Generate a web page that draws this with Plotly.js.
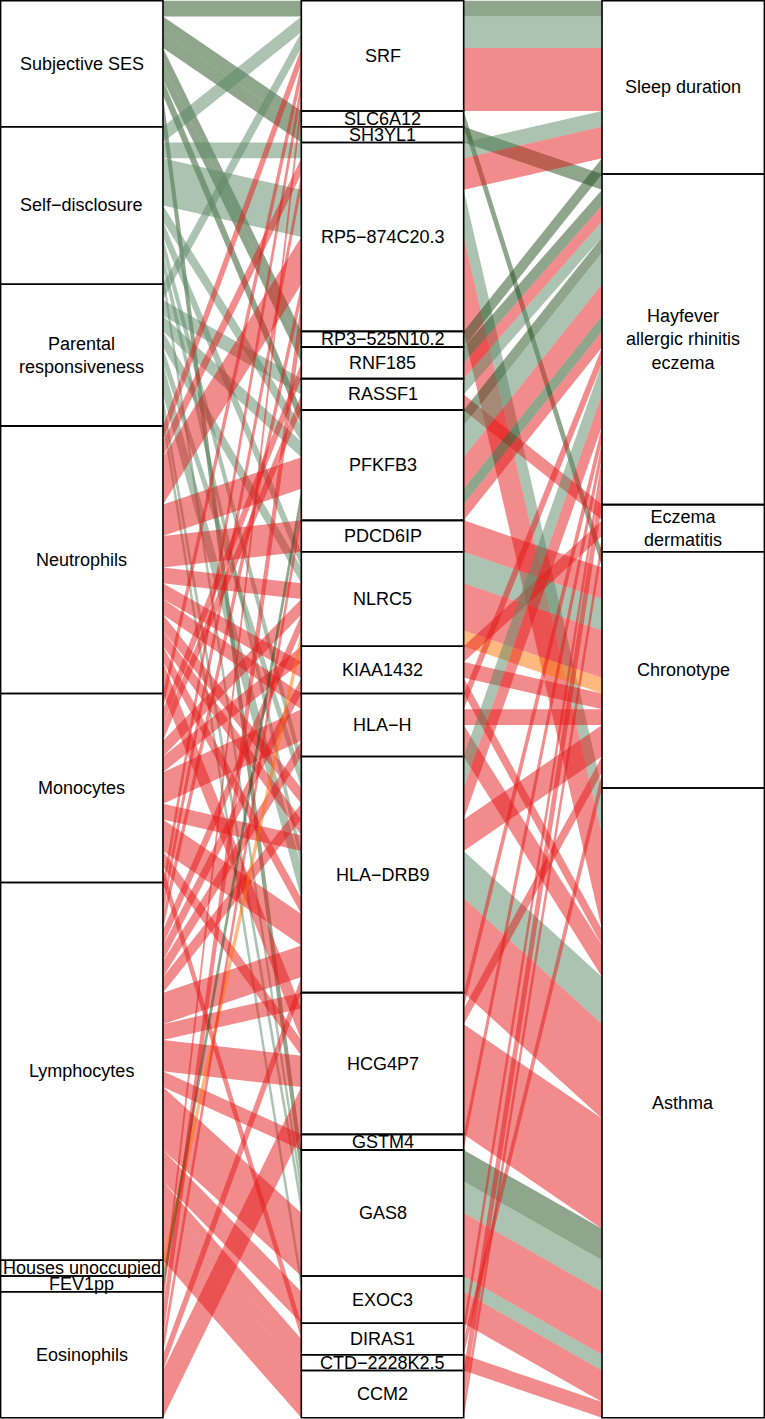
<!DOCTYPE html>
<html><head><meta charset="utf-8">
<script src="https://cdn.plot.ly/plotly-3.0.1.min.js"></script>
<style>html,body{margin:0;padding:0;background:#fff}#chart{width:765px;height:1419px}</style>
</head><body><div id="chart"></div>
<script>
// ---- categories (top to bottom) ----
const leftLevels = ["SES","SD","PR","NEU","MON","LYM","HU","FEV","EOS"];
const leftLabels = ["Subjective SES","Self\u2212disclosure","Parental<br>responsiveness","Neutrophils","Monocytes","Lymphocytes","Houses unoccupied","FEV1pp","Eosinophils"];
const geneLevels = ["SRF","SLC6A12","SH3YL1","RP5\u2212874C20.3","RP3\u2212525N10.2","RNF185","RASSF1","PFKFB3","PDCD6IP","NLRC5","KIAA1432","HLA\u2212H","HLA\u2212DRB9","HCG4P7","GSTM4","GAS8","EXOC3","DIRAS1","CTD\u22122228K2.5","CCM2"];
const diseaseLevels = ["SLP","HAY","ECZ","CHR","AST"];
const diseaseLabels = ["Sleep duration","Hayfever<br>allergic rhinitis<br>eczema","Eczema<br>dermatitis","Chronotype","Asthma"];
const groupColors = {dk:"rgba(31,77,27,0.5)", lt:"rgba(91,135,101,0.5)", red:"rgba(229,23,23,0.5)", orange:"rgba(255,115,0,0.5)"};

// ---- alluvia: one entry per unit flow ----
const flowLeft = [
 "SES","SD","PR","NEU","MON","LYM","EOS",
 "SES",
 "SES",
 "SD","NEU","LYM","SD","SD","SD","NEU","NEU","NEU","LYM","EOS","EOS",
 "SES",
 "SES","MON",
 "PR","MON",
 "SES","SD","PR","NEU","NEU","EOS","FEV",
 "NEU","NEU",
 "SD","PR","NEU","MON","LYM","HU",
 "NEU","MON","LYM",
 "NEU","MON","MON","LYM",
 "SD","PR","NEU","LYM","NEU","MON","SD","PR","PR","NEU","MON","MON","LYM","LYM","EOS",
 "LYM","NEU","NEU","MON","LYM","LYM","EOS","EOS","EOS",
 "LYM",
 "SES","SES","SD","PR","LYM","LYM","LYM","LYM",
 "PR","LYM","LYM",
 "MON","LYM",
 "LYM",
 "LYM","LYM","LYM"];
const flowGene = [
 "SRF","SRF","SRF","SRF","SRF","SRF","SRF",
 "SLC6A12",
 "SH3YL1",
 "RP5\u2212874C20.3","RP5\u2212874C20.3","RP5\u2212874C20.3","RP5\u2212874C20.3","RP5\u2212874C20.3","RP5\u2212874C20.3","RP5\u2212874C20.3","RP5\u2212874C20.3","RP5\u2212874C20.3","RP5\u2212874C20.3","RP5\u2212874C20.3","RP5\u2212874C20.3",
 "RP3\u2212525N10.2",
 "RNF185","RNF185",
 "RASSF1","RASSF1",
 "PFKFB3","PFKFB3","PFKFB3","PFKFB3","PFKFB3","PFKFB3","PFKFB3",
 "PDCD6IP","PDCD6IP",
 "NLRC5","NLRC5","NLRC5","NLRC5","NLRC5","NLRC5",
 "KIAA1432","KIAA1432","KIAA1432",
 "HLA\u2212H","HLA\u2212H","HLA\u2212H","HLA\u2212H",
 "HLA\u2212DRB9","HLA\u2212DRB9","HLA\u2212DRB9","HLA\u2212DRB9","HLA\u2212DRB9","HLA\u2212DRB9","HLA\u2212DRB9","HLA\u2212DRB9","HLA\u2212DRB9","HLA\u2212DRB9","HLA\u2212DRB9","HLA\u2212DRB9","HLA\u2212DRB9","HLA\u2212DRB9","HLA\u2212DRB9",
 "HCG4P7","HCG4P7","HCG4P7","HCG4P7","HCG4P7","HCG4P7","HCG4P7","HCG4P7","HCG4P7",
 "GSTM4",
 "GAS8","GAS8","GAS8","GAS8","GAS8","GAS8","GAS8","GAS8",
 "EXOC3","EXOC3","EXOC3",
 "DIRAS1","DIRAS1",
 "CTD\u22122228K2.5",
 "CCM2","CCM2","CCM2"];
const flowDisease = [
 "SLP","SLP","SLP","SLP","SLP","SLP","SLP",
 "CHR",
 "HAY",
 "SLP","SLP","SLP","AST","AST","AST","AST","AST","AST","AST","AST","AST",
 "SLP",
 "HAY","HAY",
 "HAY","ECZ",
 "HAY","HAY","HAY","HAY","HAY","HAY","HAY",
 "CHR","CHR",
 "CHR","CHR","CHR","CHR","CHR","CHR",
 "CHR","ECZ","AST",
 "HAY","CHR","AST","AST",
 "HAY","HAY","HAY","HAY","CHR","CHR","AST","AST","AST","AST","AST","AST","AST","AST","AST",
 "HAY","CHR","AST","AST","AST","AST","AST","AST","AST",
 "HAY",
 "AST","AST","AST","AST","AST","AST","AST","AST",
 "AST","AST","AST",
 "HAY","CHR",
 "AST",
 "HAY","HAY","ECZ"];
const flowGroup = [
 "dk","lt","lt","red","red","red","red",
 "dk",
 "dk",
 "lt","red","red","lt","lt","lt","red","red","red","red","red","red",
 "dk",
 "dk","red",
 "lt","red",
 "dk","lt","lt","red","red","red","dk",
 "red","red",
 "lt","lt","red","red","red","orange",
 "red","red","red",
 "red","red","red","red",
 "lt","lt","red","red","red","red","lt","lt","lt","red","red","red","red","red","red",
 "red","red","red","red","red","red","red","red","red",
 "red",
 "dk","dk","lt","lt","red","red","red","red",
 "lt","red","red",
 "red","red",
 "red",
 "red","red","red"];

// ---- layout of axes ----
const axisX = [1, 2, 3];
const halfW = 0.27;

const n = flowLeft.length;
const li = flowLeft.map(v => leftLevels.indexOf(v));
const gi = flowGene.map(v => geneLevels.indexOf(v));
const di = flowDisease.map(v => diseaseLevels.indexOf(v));
const keys = [li, gi, di];
// zigzag lode ordering: axis1 by (1,2,3), axis2 by (2,3,1), axis3 by (3,2,1)
const orders = [[0,1,2],[1,2,0],[2,1,0]];
const sorted = [], pos = [];
orders.forEach(ord => {
  const idx = [...Array(n).keys()];
  idx.sort((a, b) => {
    for (const k of ord) { if (keys[k][a] !== keys[k][b]) return keys[k][a] - keys[k][b]; }
    return a - b;
  });
  const p = new Array(n);
  idx.forEach((f, r) => { p[f] = r; });
  sorted.push(idx); pos.push(p);
});

// bands: merge neighbouring flows that run side by side with the same colour
const traces = [];
for (let s = 0; s < 2; s++) {
  const xa = axisX[s] + halfW, xb = axisX[s + 1] - halfW;
  const order = sorted[s];
  let k = 0;
  while (k < n) {
    const f0 = order[k];
    let len = 1;
    while (k + len < n) {
      const prev = order[k + len - 1], nxt = order[k + len];
      if (flowGroup[nxt] === flowGroup[f0] && pos[s + 1][nxt] === pos[s + 1][prev] + 1 && keys[s][nxt] === keys[s][f0] && keys[s+1][nxt] === keys[s+1][f0]) len++;
      else break;
    }
    const col = groupColors[flowGroup[f0]];
    const ya = pos[s][f0], yb = pos[s + 1][f0];
    traces.push({
      type: "scatter", mode: "lines", fill: "toself", fillcolor: col,
      line: {width: 0, color: col}, hoverinfo: "skip",
      x: [xa, xb, xb, xa, xa], y: [ya, yb, yb + len, ya + len, ya]
    });
    k += len;
  }
}

// strata boxes & labels
const shapes = [], annotations = [];
const axesDef = [
  {levels: leftLevels, labels: leftLabels, key: li},
  {levels: geneLevels, labels: geneLevels, key: gi},
  {levels: diseaseLevels, labels: diseaseLabels, key: di}
];
axesDef.forEach((ax, a) => {
  let top = 0;
  ax.levels.forEach((lev, j) => {
    const cnt = ax.key.filter(v => v === j).length;
    if (!cnt) return;
    const bot = top + cnt;
    shapes.push({type: "rect", xref: "x", yref: "y", x0: axisX[a] - halfW, x1: axisX[a] + halfW,
      y0: top, y1: bot, line: {color: "#000", width: 1.6}, fillcolor: "rgba(0,0,0,0)", layer: "above"});
    annotations.push({x: axisX[a], y: (top + bot) / 2, xref: "x", yref: "y", text: ax.labels[j],
      showarrow: false, font: {family: "Liberation Sans, Arial, sans-serif", size: 18, color: "#000"}});
    top = bot;
  });
});

const layout = {
  width: 765, height: 1419, margin: {l: 0, r: 0, t: 0, b: 0},
  paper_bgcolor: "#fff", plot_bgcolor: "#fff", showlegend: false,
  xaxis: {range: [0.728, 3.272], visible: false, fixedrange: true},
  yaxis: {range: [90.08, -0.05], visible: false, fixedrange: true},
  shapes: shapes, annotations: annotations
};
Plotly.newPlot("chart", traces, layout, {staticPlot: true, displayModeBar: false});
</script></body></html>
